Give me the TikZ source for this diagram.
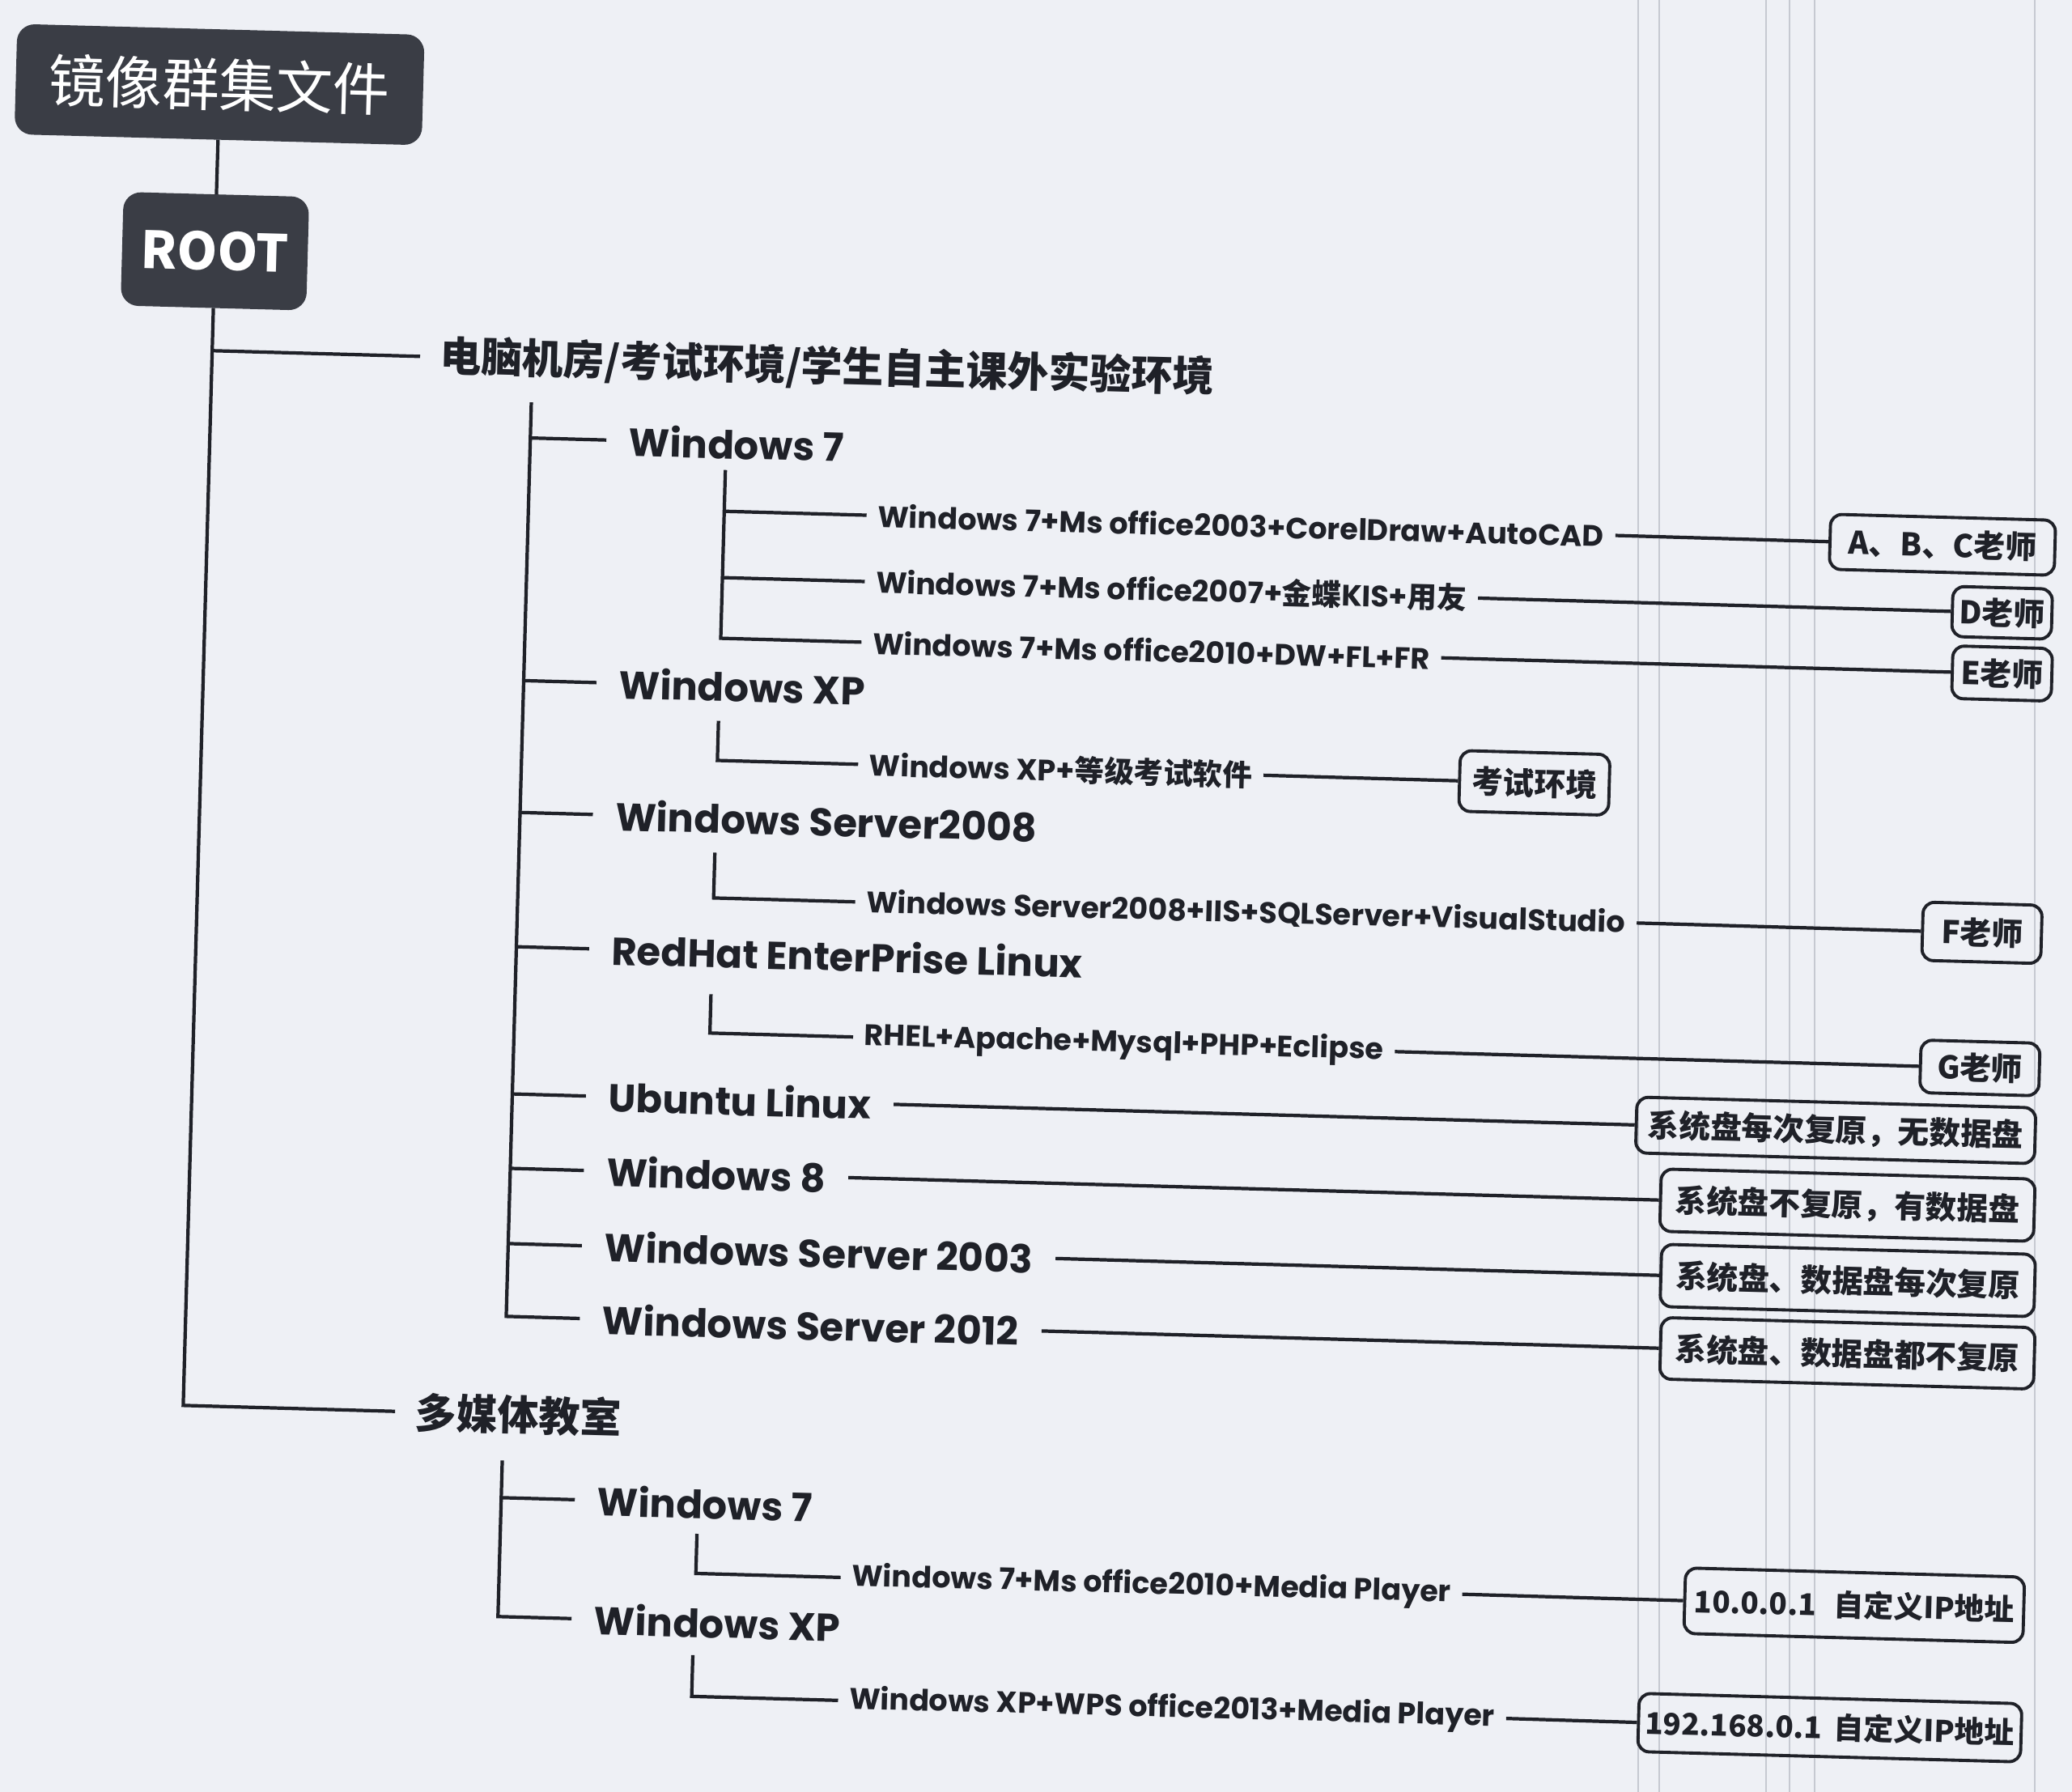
\documentclass[tikz,border=0pt]{standalone}
\usepackage{fontspec}
\setmainfont{Poppins}
\newfontfamily\cjk{Noto Sans CJK SC}
\newcommand{\zh}[1]{{\cjk #1}}
\usetikzlibrary{calc}
\definecolor{bg}{HTML}{EEF0F5}
\definecolor{ink}{HTML}{1F2128}
\definecolor{dark}{HTML}{3A3D45}
\definecolor{scan}{HTML}{C6C9D1}
\begin{document}
\begin{tikzpicture}[
  x={(0.0099963cm,-0.0002705cm)},y={(-0.0002705cm,-0.0099963cm)},
  conn/.style={draw=ink,line width=1.2pt},
  scanline/.style={draw=scan,line width=0.8pt},
  darkbox/.style={fill=dark,draw=dark,rounded corners=6pt,text=white,inner sep=0pt,align=center,rotate=-1.55},
  lvlone/.style={anchor=west,rotate=-1.55,inner xsep=0pt,inner ysep=2pt,outer xsep=7pt,text=ink,font=\cjk\bfseries\fontsize{14.5}{16}\selectfont},
  lvltwo/.style={anchor=west,rotate=-1.55,inner xsep=0pt,inner ysep=2pt,outer xsep=8pt,text=ink,font=\bfseries\fontsize{13.7}{16}\selectfont},
  lvlthree/.style={anchor=west,rotate=-1.55,inner xsep=0pt,inner ysep=2pt,outer xsep=4pt,text=ink,font=\bfseries\fontsize{10.4}{12}\selectfont},
  tag/.style={draw=ink,line width=1.1pt,rounded corners=4pt,text=ink,inner sep=0pt,rotate=-1.55,font=\cjk\bfseries\fontsize{11}{13}\selectfont}
]
\useasboundingbox (0cm,0cm) rectangle (25.6cm,-22.14cm);
\fill[bg] (0cm,0cm) rectangle (25.6cm,-22.14cm);
\foreach \x in {20.24,20.50,21.82,22.11,22.42,25.14} \draw[scanline] (\x cm,0cm) -- (\x cm,-22.14cm);

% main boxes
\node[darkbox,minimum width=5.02cm,minimum height=1.35cm,font=\cjk\fontsize{20}{24}\selectfont] (title) at (274,97) {镜像群集文件};
\node[darkbox,minimum width=2.28cm,minimum height=1.39cm,font=\cjk\bfseries\fontsize{18}{20}\selectfont] (root) at (274,303) {ROOT};

% level 1
\node[lvlone] (lab) at (531,426) {电脑机房/考试环境/学生自主课外实验环境};
\node[lvlone] (mm) at (536,1730) {多媒体教室};

% level 2
\node[lvltwo] (w7) at (764,523) {Windows 7};
\node[lvltwo] (xp) at (760,823) {Windows XP};
\node[lvltwo] (s08) at (760,986) {Windows Server2008};
\node[lvltwo] (rh) at (760,1152) {RedHat EnterPrise Linux};
\node[lvltwo] (ub) at (761,1334) {Ubuntu Linux};
\node[lvltwo] (w8) at (761,1426) {Windows 8};
\node[lvltwo] (s03) at (761,1519) {Windows Server 2003};
\node[lvltwo] (s12) at (761,1609) {Windows Server 2012};
\node[lvltwo] (mw7) at (761,1833) {Windows 7};
\node[lvltwo] (mxp) at (761,1980) {Windows XP};

% level 3
\node[lvlthree] (a1) at (1088,607) {Windows 7+Ms office2003+CorelDraw+AutoCAD};
\node[lvlthree] (a2) at (1088,689) {Windows 7+Ms office2007+\zh{金蝶}KIS+\zh{用友}};
\node[lvlthree] (a3) at (1086,764) {Windows 7+Ms office2010+DW+FL+FR};
\node[lvlthree] (x1) at (1086,915) {Windows XP+\zh{等级考试软件}};
\node[lvlthree] (s1) at (1087,1085) {Windows Server2008+IIS+SQLServer+VisualStudio};
\node[lvlthree] (r1) at (1089,1252) {RHEL+Apache+Mysql+PHP+Eclipse};
\node[lvlthree] (m1) at (1092,1920) {Windows 7+Ms office2010+Media Player};
\node[lvlthree] (m2) at (1093,2072) {Windows XP+WPS office2013+Media Player};

% tags
\node[tag,minimum width=2.78cm,minimum height=0.68cm] (tabc) at (2418,607) {A、B、C老师};
\node[tag,minimum width=1.23cm,minimum height=0.62cm] (td) at (2494,689) {D老师};
\node[tag,minimum width=1.23cm,minimum height=0.65cm] (te) at (2496,764) {E老师};
\node[tag,minimum width=1.85cm,minimum height=0.75cm] (tex) at (1922,915) {考试环境};
\node[tag,minimum width=1.47cm,minimum height=0.72cm] (tf) at (2480,1085) {F老师};
\node[tag,minimum width=1.47cm,minimum height=0.65cm] (tg) at (2482,1252) {G老师};
\node[tag,minimum width=4.93cm,minimum height=0.69cm] (tub) at (2306,1334) {系统盘每次复原，无数据盘};
\node[tag,minimum width=4.62cm,minimum height=0.77cm] (tw8) at (2323,1426) {系统盘不复原，有数据盘};
\node[tag,minimum width=4.62cm,minimum height=0.77cm] (ts3) at (2326,1519) {系统盘、数据盘每次复原};
\node[tag,minimum width=4.62cm,minimum height=0.76cm] (ts12) at (2328,1609) {系统盘、数据盘都不复原};
\node[tag,minimum width=4.19cm,minimum height=0.81cm,font=\cjk\bfseries\fontsize{10.5}{13}\selectfont] (tip1) at (2345,1920) {10.0.0.1\hspace{0.6em}自定义IP地址};
\node[tag,minimum width=4.73cm,minimum height=0.72cm,font=\cjk\bfseries\fontsize{10.5}{13}\selectfont] (tip2) at (2319,2072) {192.168.0.1\hspace{0.4em}自定义IP地址};

% trunk coordinates (top and a point further down the same trunk)
\coordinate (rA) at (root.south); \coordinate (rB) at (274,1800);
\coordinate (bA) at (670,479);  \coordinate (bB) at (670,1700);
\coordinate (cA) at (912,556);  \coordinate (cB) at (912,900);
\coordinate (dA) at (912,866);  \coordinate (dB) at (912,1000);
\coordinate (eA) at (912,1029); \coordinate (eB) at (912,1200);
\coordinate (fA) at (912,1204); \coordinate (fB) at (912,1400);
\coordinate (gA) at (670,1787); \coordinate (gB) at (670,2100);
\coordinate (hA) at (913,1871); \coordinate (hB) at (913,2000);
\coordinate (iA) at (912,2021); \coordinate (iB) at (912,2150);

% tree connectors
\draw[conn] (title.south) -- (root.north);
\draw[conn] (rA) -- ($(rA)!(mm.west)!(rB)$) -- (mm.west);
\draw[conn] ($(rA)!(lab.west)!(rB)$) -- (lab.west);

\draw[conn] (bA) -- ($(bA)!(s12.west)!(bB)$) -- (s12.west);
\foreach \n in {w7,xp,s08,rh,ub,w8,s03} \draw[conn] ($(bA)!(\n.west)!(bB)$) -- (\n.west);

\draw[conn] (cA) -- ($(cA)!(a3.west)!(cB)$) -- (a3.west);
\foreach \n in {a1,a2} \draw[conn] ($(cA)!(\n.west)!(cB)$) -- (\n.west);

\draw[conn] (dA) -- ($(dA)!(x1.west)!(dB)$) -- (x1.west);
\draw[conn] (eA) -- ($(eA)!(s1.west)!(eB)$) -- (s1.west);
\draw[conn] (fA) -- ($(fA)!(r1.west)!(fB)$) -- (r1.west);

\draw[conn] (gA) -- ($(gA)!(mxp.west)!(gB)$) -- (mxp.west);
\draw[conn] ($(gA)!(mw7.west)!(gB)$) -- (mw7.west);
\draw[conn] (hA) -- ($(hA)!(m1.west)!(hB)$) -- (m1.west);
\draw[conn] (iA) -- ($(iA)!(m2.west)!(iB)$) -- (m2.west);

% right connectors
\draw[conn] (a1.east) -- (tabc.west);
\draw[conn] (a2.east) -- (td.west);
\draw[conn] (a3.east) -- (te.west);
\draw[conn] (x1.east) -- (tex.west);
\draw[conn] (s1.east) -- (tf.west);
\draw[conn] (r1.east) -- (tg.west);
\draw[conn] (ub.east) -- (tub.west);
\draw[conn] (w8.east) -- (tw8.west);
\draw[conn] (s03.east) -- (ts3.west);
\draw[conn] (s12.east) -- (ts12.west);
\draw[conn] (m1.east) -- (tip1.west);
\draw[conn] (m2.east) -- (tip2.west);
\end{tikzpicture}
\end{document}
